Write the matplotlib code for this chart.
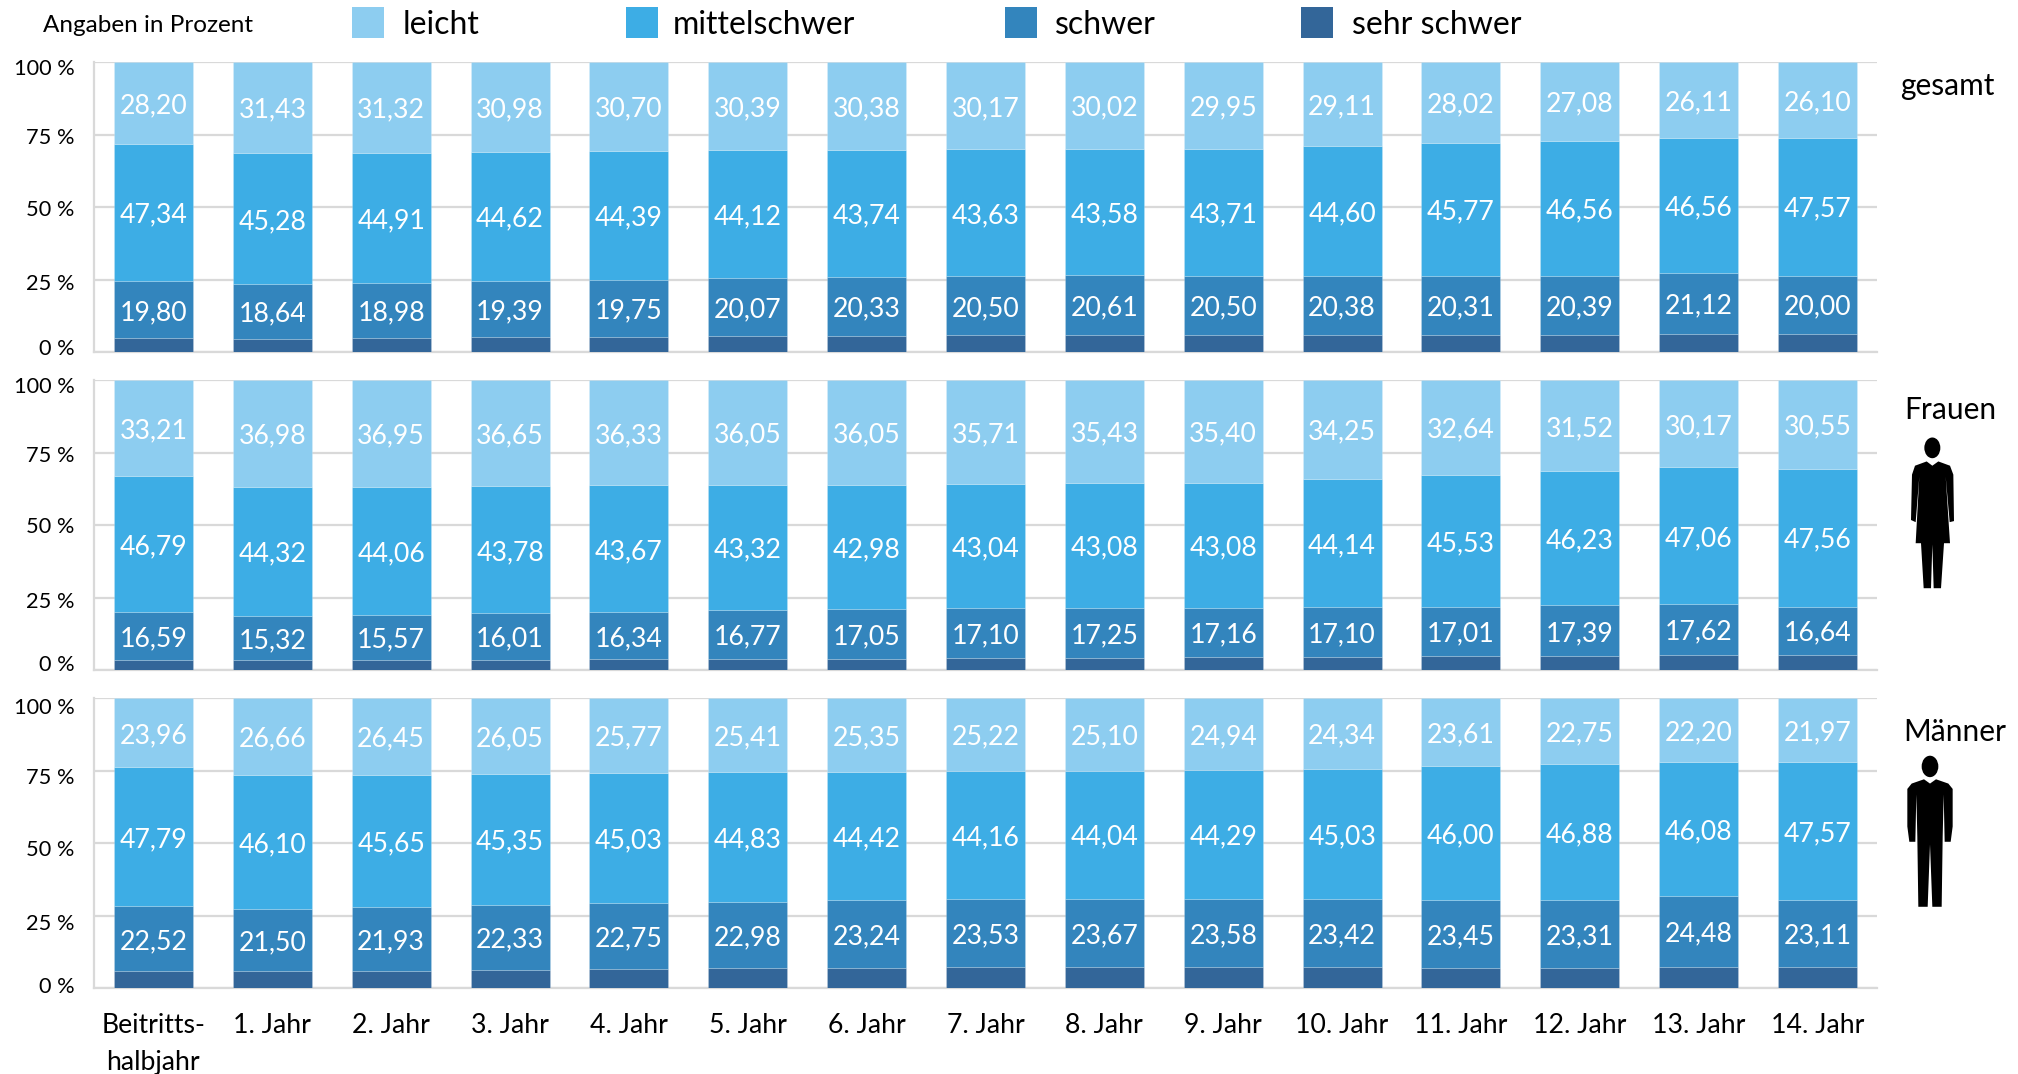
import numpy as np
import matplotlib
matplotlib.use('Agg')
from matplotlib import pyplot as plt
from matplotlib.patches import Rectangle, Polygon, Ellipse
from matplotlib.transforms import ScaledTranslation

plt.rcParams['font.family'] = ['Lato', 'DejaVu Sans']

jahre = ['Beitritts-\nhalbjahr', '1. Jahr', '2. Jahr', '3. Jahr', '4. Jahr', '5. Jahr', '6. Jahr', '7. Jahr',
         '8. Jahr', '9. Jahr', '10. Jahr', '11. Jahr', '12. Jahr', '13. Jahr', '14. Jahr']
stufen = ['leicht', 'mittelschwer', 'schwer', 'sehr schwer']
y_ticks = [0, 25, 50, 75, 100]

# gesamt
ges_leicht = [28.20, 31.43, 31.32, 30.98, 30.70, 30.39, 30.38, 30.17, 30.02, 29.95, 29.11, 28.02, 27.08, 26.11, 26.10]
ges_mittel = [47.34, 45.28, 44.91, 44.62, 44.39, 44.12, 43.74, 43.63, 43.58, 43.71, 44.60, 45.77, 46.56, 46.56, 47.57]
ges_schwer = [19.80, 18.64, 18.98, 19.39, 19.75, 20.07, 20.33, 20.50, 20.61, 20.50, 20.38, 20.31, 20.39, 21.12, 20.00]
ges_sehr = [4.66, 4.65, 4.79, 5.01, 5.16, 5.42, 5.55, 5.70, 5.79, 5.84, 5.91, 5.90, 5.97, 6.21, 6.33]

# Frauen
fr_leicht = [33.21, 36.98, 36.95, 36.65, 36.33, 36.05, 36.05, 35.71, 35.43, 35.40, 34.25, 32.64, 31.52, 30.17, 30.55]
fr_mittel = [46.79, 44.32, 44.06, 43.78, 43.67, 43.32, 42.98, 43.04, 43.08, 43.08, 44.14, 45.53, 46.23, 47.06, 47.56]
fr_schwer = [16.59, 15.32, 15.57, 16.01, 16.34, 16.77, 17.05, 17.10, 17.25, 17.16, 17.10, 17.01, 17.39, 17.62, 16.64]
fr_sehr = [3.41, 3.38, 3.42, 3.56, 3.66, 3.86, 3.92, 4.15, 4.24, 4.36, 4.51, 4.82, 4.86, 5.15, 5.25]

# Maenner
ma_leicht = [23.96, 26.66, 26.45, 26.05, 25.77, 25.41, 25.35, 25.22, 25.10, 24.94, 24.34, 23.61, 22.75, 22.20, 21.97]
ma_mittel = [47.79, 46.10, 45.65, 45.35, 45.03, 44.83, 44.42, 44.16, 44.04, 44.29, 45.03, 46.00, 46.88, 46.08, 47.57]
ma_schwer = [22.52, 21.50, 21.93, 22.33, 22.75, 22.98, 23.24, 23.53, 23.67, 23.58, 23.42, 23.45, 23.31, 24.48, 23.11]
ma_sehr = [5.73, 5.74, 5.97, 6.27, 6.45, 6.78, 6.99, 7.09, 7.19, 7.19, 7.21, 6.94, 7.06, 7.24, 7.35]

farben = ['#8DCDF0', '#3DADE5', '#3385BD', '#336699']
W, H = 2018, 1074

fig = plt.figure(figsize=(W / 100, H / 100), dpi=100)


def panel(top, bottom, leicht, mittel, schwer, sehr, tick_dy, unten=False):
    ax = fig.add_axes([94 / W, 1 - bottom / H, (1877 - 94) / W, (bottom - top) / H])
    x = np.arange(len(jahre))
    kante = dict(width=0.665, edgecolor=(1, 1, 1, 0.2), linewidth=0.6, zorder=3)
    # von unten nach oben stapeln
    ax.bar(x, sehr, color=farben[3], **kante)
    ax.bar(x, schwer, bottom=sehr, color=farben[2], **kante)
    b2 = np.array(sehr) + np.array(schwer)
    ax.bar(x, mittel, bottom=b2, color=farben[1], **kante)
    b3 = b2 + np.array(mittel)
    ax.bar(x, leicht, bottom=b3, color=farben[0], **kante)
    for i in x:
        for wert, unterkante in ((schwer[i], sehr[i]), (mittel[i], b2[i]), (leicht[i], b3[i])):
            ax.annotate(f'{wert:.2f}'.replace('.', ','), (i, unterkante + wert / 2), xytext=(0, -1.9),
                        textcoords='offset points', color='white', fontsize=19.2,
                        ha='center', va='center', zorder=4)
    ax.set_xlim(-0.5, 14.5)
    ax.set_ylim(0, 100)
    ax.set_yticks(y_ticks)
    ax.set_yticklabels([f'{t} %' for t in y_ticks], fontsize=15.7)
    ax.yaxis.grid(True, color='#D9D9D9', lw=1.6, zorder=0)
    ax.set_axisbelow(True)
    ax.tick_params(axis='both', length=0)
    ax.tick_params(axis='y', pad=14)
    for s in ('top', 'right'):
        ax.spines[s].set_visible(False)
    for s in ('left', 'bottom'):
        ax.spines[s].set_color('#D9D9D9')
        ax.spines[s].set_linewidth(1.6)
    # Achsenbeschriftung sitzt im Original nicht genau auf der Linie
    for lab, dy in zip(ax.get_yticklabels(), tick_dy):
        lab.set_transform(lab.get_transform() + ScaledTranslation(0, dy / 100, fig.dpi_scale_trans))
    if unten:
        ax.set_xticks(x)
        ax.set_xticklabels(jahre, fontsize=19.2, linespacing=1.58)
        ax.tick_params(axis='x', pad=18)
    else:
        ax.set_xticks([])
    return ax


panel(62, 352, ges_leicht, ges_mittel, ges_schwer, ges_sehr, [5.3, -2, -1.3, -1, -5])
panel(380, 670, fr_leicht, fr_mittel, fr_schwer, fr_sehr, [6.6, -2.3, 0, -1, -5])
panel(698, 988, ma_leicht, ma_mittel, ma_schwer, ma_sehr, [2.7, -6, -5, -5, -7.6], unten=True)

# Overlay in Pixeln fuer Legende, Seitentitel und Figuren
ov = fig.add_axes([0, 0, 1, 1], zorder=10)
ov.set_xlim(0, W)
ov.set_ylim(H, 0)
ov.axis('off')

ov.text(43, 25, 'Angaben in Prozent', fontsize=17.5, va='center', ha='left')
for name, farbe, x0, xt in zip(stufen, farben, [352, 626, 1005, 1301], [403, 673, 1055, 1352]):
    ov.add_patch(Rectangle((x0, 7), 32, 31, color=farbe, lw=0))
    ov.text(xt, 25, name, fontsize=23, va='center', ha='left')

ov.text(1947, 86, 'gesamt', fontsize=21.5, va='center', ha='center')
ov.text(1950, 410, 'Frauen', fontsize=21.5, va='center', ha='center')
ov.text(1955, 732, 'Männer', fontsize=21.5, va='center', ha='center')

frau = [(380, 228), (397, 240), (415, 228), (450, 240), (460, 265), (462, 395), (449, 398), (437, 270), (450, 457),
        (432, 457), (423, 583), (401, 583), (397, 460), (393, 583), (371, 583), (363, 457), (347, 457), (358, 270),
        (347, 398), (333, 392), (336, 265), (345, 240)]
mann = [(372, 1118), (390, 1130), (408, 1118), (445, 1130), (458, 1145), (458, 1250), (452, 1293), (434, 1293),
        (431, 1160), (428, 1280), (425, 1475), (397, 1475), (390, 1300), (383, 1475), (355, 1475), (352, 1280),
        (349, 1160), (346, 1293), (328, 1293), (322, 1250), (322, 1145), (335, 1130)]


def zoom2px(p):
    return (1800 + p[0] / 3, 380 + p[1] / 2.8)


ov.add_patch(Polygon([zoom2px(p) for p in frau], color='black', lw=0))
ov.add_patch(Ellipse(zoom2px((397, 190)), 48 / 3, 58 / 2.8, color='black', lw=0))
ov.add_patch(Polygon([zoom2px(p) for p in mann], color='black', lw=0))
ov.add_patch(Ellipse(zoom2px((390, 1082)), 50 / 3, 60 / 2.8, color='black', lw=0))

plt.savefig('out.png', dpi=100)
